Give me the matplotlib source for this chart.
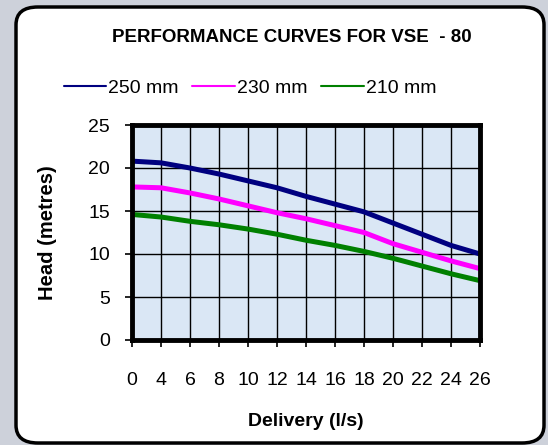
import matplotlib.pyplot as plt
from matplotlib.patches import FancyBboxPatch

# Performance curves data
delivery = ["0", "4", "6", "8", "10", "12", "14", "16", "18", "20", "22", "24", "26"]
head_250 = [20.8, 20.6, 20.0, 19.3, 18.5, 17.7, 16.7, 15.8, 14.9, 13.6, 12.3, 11.0, 10.0]
head_230 = [17.8, 17.7, 17.1, 16.4, 15.6, 14.8, 14.1, 13.3, 12.5, 11.2, 10.2, 9.2, 8.3]
head_210 = [14.6, 14.3, 13.8, 13.4, 12.9, 12.3, 11.6, 11.0, 10.3, 9.5, 8.6, 7.7, 6.9]

plt.rcParams['font.family'] = ['Liberation Sans', 'DejaVu Sans']

fig = plt.figure(figsize=(5.48, 4.45), dpi=100)
fig.patch.set_facecolor("#cdd1da")

# rounded white panel
panel = FancyBboxPatch((16 / 548, 2 / 445), 528 / 548, 436 / 445,
                       boxstyle="round,pad=0,rounding_size=0.04",
                       transform=fig.transFigure, facecolor="white",
                       edgecolor="black", linewidth=2.5, zorder=-5)
fig.patches.append(panel)

ax = fig.add_axes([132 / 548, 1 - 340 / 445, 348 / 548, 215 / 445])
ax.set_zorder(2)
ax.set_facecolor("#dae7f5")

x = list(range(len(delivery)))
ax.plot(x, head_250, color="#000080", lw=3.6, label="250 mm", solid_capstyle="round", zorder=3)
ax.plot(x, head_230, color="#ff00ff", lw=3.6, label="230 mm", solid_capstyle="round", zorder=3)
ax.plot(x, head_210, color="#008000", lw=3.6, label="210 mm", solid_capstyle="round", zorder=3)

ax.set_xlim(0, len(delivery) - 1)
ax.set_ylim(0, 25)
ax.set_xticks(x)
ax.set_xticklabels(delivery)
ax.set_yticks([0, 5, 10, 15, 20, 25])
ax.grid(True, color="black", lw=1.0, zorder=1)
ax.set_axisbelow(True)
for s in ax.spines.values():
    s.set_linewidth(3.5)
    s.set_zorder(4)
ax.tick_params(axis="both", direction="out", length=5, width=1.2, labelsize=14)
ax.tick_params(axis="y", pad=11)
ax.tick_params(axis="x", pad=18)

ax.set_xlabel("Delivery (l/s)", fontsize=14, fontweight="bold", labelpad=17)
ax.set_ylabel("Head (metres)", fontsize=14.5, fontweight="bold", labelpad=22)

fig.text(292 / 548, 1 - 38 / 445, "PERFORMANCE CURVES FOR VSE  - 80",
         ha="center", va="center", fontsize=13.5, fontweight="bold")

leg = fig.legend(loc="center", bbox_to_anchor=(250 / 548, 1 - 88 / 445), ncol=3,
                 frameon=False, fontsize=14, handlelength=2.2, handletextpad=0.1,
                 columnspacing=0.7)
for h in leg.get_lines():
    h.set_linewidth(1.5)

plt.savefig("out.png", dpi=100)
